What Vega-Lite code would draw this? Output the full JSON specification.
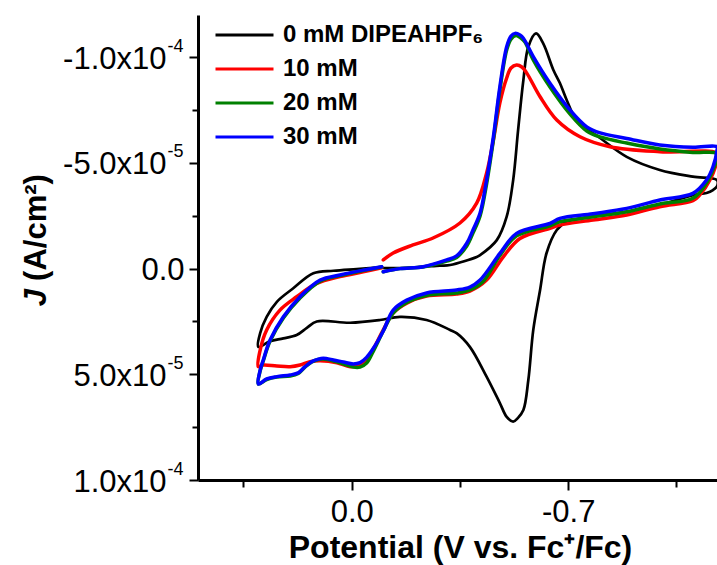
{
 "$schema": "https://vega.github.io/schema/vega-lite/v6.json",
 "width": 519, "height": 465,
 "autosize": {"type": "none"},
 "padding": {"left": 198, "top": 15, "right": 0, "bottom": 85},
 "background": "white",
 "config": {"view": {"stroke": null}, "font": "Liberation Sans"},
 "data": {"values": [
  {"s":"0 mM DIPEAHPF₆","i":0,"E":-0.102,"J":-0.03e-5},
  {"s":"0 mM DIPEAHPF₆","i":1,"E":-0.156,"J":-0.03e-5},
  {"s":"0 mM DIPEAHPF₆","i":2,"E":-0.285,"J":-0.14e-5},
  {"s":"0 mM DIPEAHPF₆","i":3,"E":-0.318,"J":-0.17e-5},
  {"s":"0 mM DIPEAHPF₆","i":4,"E":-0.404,"J":-0.55e-5},
  {"s":"0 mM DIPEAHPF₆","i":5,"E":-0.415,"J":-0.64e-5},
  {"s":"0 mM DIPEAHPF₆","i":6,"E":-0.469,"J":-1.35e-5},
  {"s":"0 mM DIPEAHPF₆","i":7,"E":-0.501,"J":-2.46e-5},
  {"s":"0 mM DIPEAHPF₆","i":8,"E":-0.522,"J":-4.19e-5},
  {"s":"0 mM DIPEAHPF₆","i":9,"E":-0.538,"J":-6.56e-5},
  {"s":"0 mM DIPEAHPF₆","i":10,"E":-0.555,"J":-8.92e-5},
  {"s":"0 mM DIPEAHPF₆","i":11,"E":-0.571,"J":-10.50e-5},
  {"s":"0 mM DIPEAHPF₆","i":12,"E":-0.596,"J":-11.13e-5},
  {"s":"0 mM DIPEAHPF₆","i":13,"E":-0.619,"J":-10.66e-5},
  {"s":"0 mM DIPEAHPF₆","i":14,"E":-0.652,"J":-9.40e-5},
  {"s":"0 mM DIPEAHPF₆","i":15,"E":-0.673,"J":-8.78e-5},
  {"s":"0 mM DIPEAHPF₆","i":16,"E":-0.695,"J":-7.98e-5},
  {"s":"0 mM DIPEAHPF₆","i":17,"E":-0.727,"J":-7.03e-5},
  {"s":"0 mM DIPEAHPF₆","i":18,"E":-0.803,"J":-6.18e-5},
  {"s":"0 mM DIPEAHPF₆","i":19,"E":-0.889,"J":-5.29e-5},
  {"s":"0 mM DIPEAHPF₆","i":20,"E":-0.996,"J":-4.67e-5},
  {"s":"0 mM DIPEAHPF₆","i":21,"E":-1.103,"J":-4.35e-5},
  {"s":"0 mM DIPEAHPF₆","i":22,"E":-1.181,"J":-4.19e-5},
  {"s":"0 mM DIPEAHPF₆","i":23,"E":-1.181,"J":-3.90e-5},
  {"s":"0 mM DIPEAHPF₆","i":24,"E":-1.168,"J":-3.72e-5},
  {"s":"0 mM DIPEAHPF₆","i":25,"E":-1.147,"J":-3.58e-5},
  {"s":"0 mM DIPEAHPF₆","i":26,"E":-1.103,"J":-3.48e-5},
  {"s":"0 mM DIPEAHPF₆","i":27,"E":-0.996,"J":-3.01e-5},
  {"s":"0 mM DIPEAHPF₆","i":28,"E":-0.889,"J":-2.69e-5},
  {"s":"0 mM DIPEAHPF₆","i":29,"E":-0.780,"J":-2.46e-5},
  {"s":"0 mM DIPEAHPF₆","i":30,"E":-0.695,"J":-2.22e-5},
  {"s":"0 mM DIPEAHPF₆","i":31,"E":-0.663,"J":-1.83e-5},
  {"s":"0 mM DIPEAHPF₆","i":32,"E":-0.630,"J":-0.74e-5},
  {"s":"0 mM DIPEAHPF₆","i":33,"E":-0.609,"J":1.01e-5},
  {"s":"0 mM DIPEAHPF₆","i":34,"E":-0.587,"J":2.90e-5},
  {"s":"0 mM DIPEAHPF₆","i":35,"E":-0.571,"J":5.27e-5},
  {"s":"0 mM DIPEAHPF₆","i":36,"E":-0.555,"J":6.69e-5},
  {"s":"0 mM DIPEAHPF₆","i":37,"E":-0.537,"J":7.07e-5},
  {"s":"0 mM DIPEAHPF₆","i":38,"E":-0.522,"J":7.24e-5},
  {"s":"0 mM DIPEAHPF₆","i":39,"E":-0.501,"J":7.01e-5},
  {"s":"0 mM DIPEAHPF₆","i":40,"E":-0.479,"J":6.36e-5},
  {"s":"0 mM DIPEAHPF₆","i":41,"E":-0.436,"J":5.11e-5},
  {"s":"0 mM DIPEAHPF₆","i":42,"E":-0.382,"J":3.70e-5},
  {"s":"0 mM DIPEAHPF₆","i":43,"E":-0.339,"J":3.05e-5},
  {"s":"0 mM DIPEAHPF₆","i":44,"E":-0.318,"J":2.90e-5},
  {"s":"0 mM DIPEAHPF₆","i":45,"E":-0.242,"J":2.43e-5},
  {"s":"0 mM DIPEAHPF₆","i":46,"E":-0.156,"J":2.28e-5},
  {"s":"0 mM DIPEAHPF₆","i":47,"E":-0.091,"J":2.43e-5},
  {"s":"0 mM DIPEAHPF₆","i":48,"E":0.005,"J":2.56e-5},
  {"s":"0 mM DIPEAHPF₆","i":49,"E":0.113,"J":2.50e-5},
  {"s":"0 mM DIPEAHPF₆","i":50,"E":0.145,"J":2.80e-5},
  {"s":"0 mM DIPEAHPF₆","i":51,"E":0.178,"J":3.14e-5},
  {"s":"0 mM DIPEAHPF₆","i":52,"E":0.221,"J":3.30e-5},
  {"s":"0 mM DIPEAHPF₆","i":53,"E":0.264,"J":3.43e-5},
  {"s":"0 mM DIPEAHPF₆","i":54,"E":0.302,"J":3.70e-5},
  {"s":"0 mM DIPEAHPF₆","i":55,"E":0.296,"J":3.05e-5},
  {"s":"0 mM DIPEAHPF₆","i":56,"E":0.275,"J":2.28e-5},
  {"s":"0 mM DIPEAHPF₆","i":57,"E":0.242,"J":1.57e-5},
  {"s":"0 mM DIPEAHPF₆","i":58,"E":0.189,"J":0.93e-5},
  {"s":"0 mM DIPEAHPF₆","i":59,"E":0.124,"J":0.22e-5},
  {"s":"0 mM DIPEAHPF₆","i":60,"E":0.059,"J":0.10e-5},
  {"s":"0 mM DIPEAHPF₆","i":61,"E":-0.016,"J":0.02e-5},
  {"s":"0 mM DIPEAHPF₆","i":62,"E":-0.091,"J":-0.06e-5},

  {"s":"10 mM","i":0,"E":-0.102,"J":-0.41e-5},
  {"s":"10 mM","i":1,"E":-0.134,"J":-0.74e-5},
  {"s":"10 mM","i":2,"E":-0.198,"J":-1.12e-5},
  {"s":"10 mM","i":3,"E":-0.263,"J":-1.45e-5},
  {"s":"10 mM","i":4,"E":-0.350,"J":-2.16e-5},
  {"s":"10 mM","i":5,"E":-0.404,"J":-3.10e-5},
  {"s":"10 mM","i":6,"E":-0.436,"J":-4.52e-5},
  {"s":"10 mM","i":7,"E":-0.458,"J":-6.08e-5},
  {"s":"10 mM","i":8,"E":-0.479,"J":-7.84e-5},
  {"s":"10 mM","i":9,"E":-0.501,"J":-9.02e-5},
  {"s":"10 mM","i":10,"E":-0.515,"J":-9.49e-5},
  {"s":"10 mM","i":11,"E":-0.533,"J":-9.63e-5},
  {"s":"10 mM","i":12,"E":-0.550,"J":-9.54e-5},
  {"s":"10 mM","i":13,"E":-0.566,"J":-9.25e-5},
  {"s":"10 mM","i":14,"E":-0.609,"J":-8.13e-5},
  {"s":"10 mM","i":15,"E":-0.663,"J":-7.03e-5},
  {"s":"10 mM","i":16,"E":-0.738,"J":-6.24e-5},
  {"s":"10 mM","i":17,"E":-0.835,"J":-5.77e-5},
  {"s":"10 mM","i":18,"E":-0.996,"J":-5.53e-5},
  {"s":"10 mM","i":19,"E":-1.181,"J":-5.45e-5},
  {"s":"10 mM","i":20,"E":-1.181,"J":-5.14e-5},
  {"s":"10 mM","i":21,"E":-1.158,"J":-4.19e-5},
  {"s":"10 mM","i":22,"E":-1.126,"J":-3.50e-5},
  {"s":"10 mM","i":23,"E":-1.103,"J":-3.21e-5},
  {"s":"10 mM","i":24,"E":-0.996,"J":-2.93e-5},
  {"s":"10 mM","i":25,"E":-0.889,"J":-2.54e-5},
  {"s":"10 mM","i":26,"E":-0.780,"J":-2.30e-5},
  {"s":"10 mM","i":27,"E":-0.673,"J":-2.06e-5},
  {"s":"10 mM","i":28,"E":-0.641,"J":-1.91e-5},
  {"s":"10 mM","i":29,"E":-0.544,"J":-1.43e-5},
  {"s":"10 mM","i":30,"E":-0.490,"J":-0.56e-5},
  {"s":"10 mM","i":31,"E":-0.436,"J":0.54e-5},
  {"s":"10 mM","i":32,"E":-0.382,"J":1.06e-5},
  {"s":"10 mM","i":33,"E":-0.339,"J":1.20e-5},
  {"s":"10 mM","i":34,"E":-0.242,"J":1.30e-5},
  {"s":"10 mM","i":35,"E":-0.178,"J":1.63e-5},
  {"s":"10 mM","i":36,"E":-0.134,"J":2.10e-5},
  {"s":"10 mM","i":37,"E":-0.102,"J":2.90e-5},
  {"s":"10 mM","i":38,"E":-0.070,"J":3.80e-5},
  {"s":"10 mM","i":39,"E":-0.048,"J":4.32e-5},
  {"s":"10 mM","i":40,"E":-0.027,"J":4.56e-5},
  {"s":"10 mM","i":41,"E":0.005,"J":4.64e-5},
  {"s":"10 mM","i":42,"E":0.048,"J":4.45e-5},
  {"s":"10 mM","i":43,"E":0.102,"J":4.36e-5},
  {"s":"10 mM","i":44,"E":0.135,"J":4.40e-5},
  {"s":"10 mM","i":45,"E":0.167,"J":4.56e-5},
  {"s":"10 mM","i":46,"E":0.199,"J":4.64e-5},
  {"s":"10 mM","i":47,"E":0.242,"J":4.61e-5},
  {"s":"10 mM","i":48,"E":0.286,"J":4.56e-5},
  {"s":"10 mM","i":49,"E":0.302,"J":4.64e-5},
  {"s":"10 mM","i":50,"E":0.296,"J":3.85e-5},
  {"s":"10 mM","i":51,"E":0.275,"J":2.90e-5},
  {"s":"10 mM","i":52,"E":0.232,"J":1.96e-5},
  {"s":"10 mM","i":53,"E":0.178,"J":1.33e-5},
  {"s":"10 mM","i":54,"E":0.113,"J":0.70e-5},
  {"s":"10 mM","i":55,"E":0.038,"J":0.38e-5},
  {"s":"10 mM","i":56,"E":-0.037,"J":0.15e-5},
  {"s":"10 mM","i":57,"E":-0.097,"J":-0.04e-5},

  {"s":"20 mM","i":0,"E":-0.102,"J":0.15e-5},
  {"s":"20 mM","i":1,"E":-0.156,"J":0.00},
  {"s":"20 mM","i":2,"E":-0.231,"J":-0.08e-5},
  {"s":"20 mM","i":3,"E":-0.307,"J":-0.36e-5},
  {"s":"20 mM","i":4,"E":-0.339,"J":-0.53e-5},
  {"s":"20 mM","i":5,"E":-0.372,"J":-1.07e-5},
  {"s":"20 mM","i":6,"E":-0.392,"J":-1.68e-5},
  {"s":"20 mM","i":7,"E":-0.415,"J":-2.49e-5},
  {"s":"20 mM","i":8,"E":-0.436,"J":-4.00e-5},
  {"s":"20 mM","i":9,"E":-0.458,"J":-6.08e-5},
  {"s":"20 mM","i":10,"E":-0.479,"J":-8.45e-5},
  {"s":"20 mM","i":11,"E":-0.501,"J":-10.34e-5},
  {"s":"20 mM","i":12,"E":-0.515,"J":-10.86e-5},
  {"s":"20 mM","i":13,"E":-0.531,"J":-11.03e-5},
  {"s":"20 mM","i":14,"E":-0.547,"J":-10.91e-5},
  {"s":"20 mM","i":15,"E":-0.560,"J":-10.72e-5},
  {"s":"20 mM","i":16,"E":-0.587,"J":-9.87e-5},
  {"s":"20 mM","i":17,"E":-0.641,"J":-8.59e-5},
  {"s":"20 mM","i":18,"E":-0.706,"J":-7.31e-5},
  {"s":"20 mM","i":19,"E":-0.760,"J":-6.51e-5},
  {"s":"20 mM","i":20,"E":-0.803,"J":-6.23e-5},
  {"s":"20 mM","i":21,"E":-0.889,"J":-5.94e-5},
  {"s":"20 mM","i":22,"E":-0.996,"J":-5.66e-5},
  {"s":"20 mM","i":23,"E":-1.103,"J":-5.50e-5},
  {"s":"20 mM","i":24,"E":-1.181,"J":-5.45e-5},
  {"s":"20 mM","i":25,"E":-1.181,"J":-5.20e-5},
  {"s":"20 mM","i":26,"E":-1.168,"J":-4.67e-5},
  {"s":"20 mM","i":27,"E":-1.147,"J":-4.05e-5},
  {"s":"20 mM","i":28,"E":-1.103,"J":-3.33e-5},
  {"s":"20 mM","i":29,"E":-0.996,"J":-3.06e-5},
  {"s":"20 mM","i":30,"E":-0.889,"J":-2.69e-5},
  {"s":"20 mM","i":31,"E":-0.780,"J":-2.45e-5},
  {"s":"20 mM","i":32,"E":-0.673,"J":-2.22e-5},
  {"s":"20 mM","i":33,"E":-0.641,"J":-2.03e-5},
  {"s":"20 mM","i":34,"E":-0.533,"J":-1.55e-5},
  {"s":"20 mM","i":35,"E":-0.479,"J":-0.62e-5},
  {"s":"20 mM","i":36,"E":-0.424,"J":0.62e-5},
  {"s":"20 mM","i":37,"E":-0.382,"J":1.01e-5},
  {"s":"20 mM","i":38,"E":-0.339,"J":1.15e-5},
  {"s":"20 mM","i":39,"E":-0.242,"J":1.27e-5},
  {"s":"20 mM","i":40,"E":-0.178,"J":1.60e-5},
  {"s":"20 mM","i":41,"E":-0.134,"J":2.10e-5},
  {"s":"20 mM","i":42,"E":-0.102,"J":2.95e-5},
  {"s":"20 mM","i":43,"E":-0.070,"J":3.90e-5},
  {"s":"20 mM","i":44,"E":-0.048,"J":4.47e-5},
  {"s":"20 mM","i":45,"E":-0.027,"J":4.66e-5},
  {"s":"20 mM","i":46,"E":-0.005,"J":4.66e-5},
  {"s":"20 mM","i":47,"E":0.027,"J":4.51e-5},
  {"s":"20 mM","i":48,"E":0.059,"J":4.37e-5},
  {"s":"20 mM","i":49,"E":0.092,"J":4.28e-5},
  {"s":"20 mM","i":50,"E":0.108,"J":4.30e-5},
  {"s":"20 mM","i":51,"E":0.129,"J":4.42e-5},
  {"s":"20 mM","i":52,"E":0.151,"J":4.66e-5},
  {"s":"20 mM","i":53,"E":0.173,"J":4.96e-5},
  {"s":"20 mM","i":54,"E":0.199,"J":5.08e-5},
  {"s":"20 mM","i":55,"E":0.242,"J":5.13e-5},
  {"s":"20 mM","i":56,"E":0.275,"J":5.25e-5},
  {"s":"20 mM","i":57,"E":0.302,"J":5.46e-5},
  {"s":"20 mM","i":58,"E":0.296,"J":4.84e-5},
  {"s":"20 mM","i":59,"E":0.286,"J":4.37e-5},
  {"s":"20 mM","i":60,"E":0.264,"J":3.43e-5},
  {"s":"20 mM","i":61,"E":0.221,"J":2.34e-5},
  {"s":"20 mM","i":62,"E":0.167,"J":1.39e-5},
  {"s":"20 mM","i":63,"E":0.102,"J":0.59e-5},
  {"s":"20 mM","i":64,"E":0.038,"J":0.33e-5},
  {"s":"20 mM","i":65,"E":-0.037,"J":0.09e-5},
  {"s":"20 mM","i":66,"E":-0.097,"J":-0.08e-5},

  {"s":"30 mM","i":0,"E":-0.102,"J":0.15e-5},
  {"s":"30 mM","i":1,"E":-0.156,"J":0.00},
  {"s":"30 mM","i":2,"E":-0.231,"J":-0.09e-5},
  {"s":"30 mM","i":3,"E":-0.307,"J":-0.41e-5},
  {"s":"30 mM","i":4,"E":-0.339,"J":-0.60e-5},
  {"s":"30 mM","i":5,"E":-0.372,"J":-1.20e-5},
  {"s":"30 mM","i":6,"E":-0.392,"J":-1.83e-5},
  {"s":"30 mM","i":7,"E":-0.415,"J":-2.63e-5},
  {"s":"30 mM","i":8,"E":-0.436,"J":-4.19e-5},
  {"s":"30 mM","i":9,"E":-0.458,"J":-6.24e-5},
  {"s":"30 mM","i":10,"E":-0.479,"J":-8.61e-5},
  {"s":"30 mM","i":11,"E":-0.501,"J":-10.50e-5},
  {"s":"30 mM","i":12,"E":-0.515,"J":-11.00e-5},
  {"s":"30 mM","i":13,"E":-0.528,"J":-11.13e-5},
  {"s":"30 mM","i":14,"E":-0.544,"J":-11.05e-5},
  {"s":"30 mM","i":15,"E":-0.555,"J":-10.90e-5},
  {"s":"30 mM","i":16,"E":-0.587,"J":-10.03e-5},
  {"s":"30 mM","i":17,"E":-0.641,"J":-8.77e-5},
  {"s":"30 mM","i":18,"E":-0.706,"J":-7.50e-5},
  {"s":"30 mM","i":19,"E":-0.760,"J":-6.71e-5},
  {"s":"30 mM","i":20,"E":-0.803,"J":-6.42e-5},
  {"s":"30 mM","i":21,"E":-0.889,"J":-6.16e-5},
  {"s":"30 mM","i":22,"E":-0.996,"J":-5.85e-5},
  {"s":"30 mM","i":23,"E":-1.103,"J":-5.74e-5},
  {"s":"30 mM","i":24,"E":-1.181,"J":-5.77e-5},
  {"s":"30 mM","i":25,"E":-1.181,"J":-5.60e-5},
  {"s":"30 mM","i":26,"E":-1.168,"J":-4.82e-5},
  {"s":"30 mM","i":27,"E":-1.147,"J":-4.19e-5},
  {"s":"30 mM","i":28,"E":-1.103,"J":-3.56e-5},
  {"s":"30 mM","i":29,"E":-0.996,"J":-3.25e-5},
  {"s":"30 mM","i":30,"E":-0.889,"J":-2.85e-5},
  {"s":"30 mM","i":31,"E":-0.780,"J":-2.60e-5},
  {"s":"30 mM","i":32,"E":-0.673,"J":-2.38e-5},
  {"s":"30 mM","i":33,"E":-0.641,"J":-2.14e-5},
  {"s":"30 mM","i":34,"E":-0.533,"J":-1.67e-5},
  {"s":"30 mM","i":35,"E":-0.479,"J":-0.72e-5},
  {"s":"30 mM","i":36,"E":-0.415,"J":0.54e-5},
  {"s":"30 mM","i":37,"E":-0.382,"J":0.87e-5},
  {"s":"30 mM","i":38,"E":-0.339,"J":1.01e-5},
  {"s":"30 mM","i":39,"E":-0.242,"J":1.15e-5},
  {"s":"30 mM","i":40,"E":-0.178,"J":1.49e-5},
  {"s":"30 mM","i":41,"E":-0.134,"J":1.96e-5},
  {"s":"30 mM","i":42,"E":-0.102,"J":2.95e-5},
  {"s":"30 mM","i":43,"E":-0.070,"J":3.77e-5},
  {"s":"30 mM","i":44,"E":-0.048,"J":4.20e-5},
  {"s":"30 mM","i":45,"E":-0.027,"J":4.45e-5},
  {"s":"30 mM","i":46,"E":-0.005,"J":4.51e-5},
  {"s":"30 mM","i":47,"E":0.027,"J":4.42e-5},
  {"s":"30 mM","i":48,"E":0.059,"J":4.32e-5},
  {"s":"30 mM","i":49,"E":0.092,"J":4.24e-5},
  {"s":"30 mM","i":50,"E":0.108,"J":4.28e-5},
  {"s":"30 mM","i":51,"E":0.129,"J":4.40e-5},
  {"s":"30 mM","i":52,"E":0.151,"J":4.64e-5},
  {"s":"30 mM","i":53,"E":0.173,"J":4.93e-5},
  {"s":"30 mM","i":54,"E":0.199,"J":5.03e-5},
  {"s":"30 mM","i":55,"E":0.242,"J":5.11e-5},
  {"s":"30 mM","i":56,"E":0.275,"J":5.22e-5},
  {"s":"30 mM","i":57,"E":0.302,"J":5.46e-5},
  {"s":"30 mM","i":58,"E":0.296,"J":4.80e-5},
  {"s":"30 mM","i":59,"E":0.286,"J":4.32e-5},
  {"s":"30 mM","i":60,"E":0.264,"J":3.38e-5},
  {"s":"30 mM","i":61,"E":0.221,"J":2.28e-5},
  {"s":"30 mM","i":62,"E":0.167,"J":1.33e-5},
  {"s":"30 mM","i":63,"E":0.102,"J":0.54e-5},
  {"s":"30 mM","i":64,"E":0.038,"J":0.30e-5},
  {"s":"30 mM","i":65,"E":-0.037,"J":0.07e-5},
  {"s":"30 mM","i":66,"E":-0.097,"J":-0.09e-5}
 ]},
 "layer": [
  {
   "mark": {"type": "line", "interpolate": "catmull-rom", "clip": true, "strokeJoin": "round", "strokeCap": "round"},
   "encoding": {
    "x": {"field": "E", "type": "quantitative",
     "scale": {"domain": [-1.181, 0.497], "reverse": true, "nice": false, "zero": false},
     "axis": {
      "values": [0.35, 0, -0.35, -0.7, -1.05],
      "labelExpr": "abs(datum.value) < 1e-9 ? '0.0' : (abs(datum.value + 0.7) < 1e-9 ? '-0.7' : '')",
      "labelFont": "Liberation Sans", "labelFontSize": 31, "labelColor": "black",
      "labelBaseline": "alphabetic", "labelPadding": 31, "labelFlush": false, "labelOverlap": false,
      "tickSize": {"condition": {"test": "abs(datum.value) < 1e-9 || abs(datum.value + 0.7) < 1e-9", "value": 10}, "value": 7},
      "tickWidth": 2, "tickColor": "black",
      "domainWidth": 3, "domainColor": "black", "grid": false,
      "title": "Potential (V vs. Fc⁺/Fc)", "titleFont": "Liberation Sans", "titleFontSize": 32, "titleFontWeight": "bold", "titleColor": "black",
      "titleX": 262, "titleY": 77, "titleBaseline": "alphabetic", "titleAlign": "center"
     }
    },
    "y": {"field": "J", "type": "quantitative",
     "scale": {"domain": [-1.2e-4, 1.0e-4], "reverse": true, "nice": false, "zero": false},
     "axis": {
      "orient": "left",
      "values": [-1e-4, -7.5e-5, -5e-5, -2.5e-5, 0, 2.5e-5, 5e-5, 7.5e-5, 1e-4],
      "labelExpr": "abs(datum.value + 1e-4) < 1e-9 ? '-1.0x10' : abs(datum.value + 5e-5) < 1e-9 ? '-5.0x10' : abs(datum.value) < 1e-9 ? '0.0' : abs(datum.value - 5e-5) < 1e-9 ? '5.0x10' : abs(datum.value - 1e-4) < 1e-9 ? '1.0x10' : ''",
      "labelFont": "Liberation Sans", "labelFontSize": 31, "labelColor": "black",
      "labelAlign": "right", "labelBaseline": "middle", "labelOverlap": false,
      "labelPadding": {"condition": {"test": "abs(datum.value) < 1e-9", "value": 5}, "value": 23},
      "labelOffset": 2,
      "tickSize": {"condition": {"test": "abs(datum.value * 2e4 - round(datum.value * 2e4)) < 1e-6", "value": 9}, "value": 6},
      "tickWidth": 2, "tickColor": "black",
      "domainWidth": 3, "domainColor": "black", "grid": false,
      "title": "(A/cm²)", "titleFont": "Liberation Sans", "titleFontSize": 31, "titleFontWeight": "bold", "titleColor": "black",
      "titleAngle": -90, "titleX": -153, "titleY": 212, "titleAlign": "center", "titleBaseline": "alphabetic"
     }
    },
    "color": {"field": "s", "type": "nominal",
     "scale": {"domain": ["0 mM DIPEAHPF₆", "10 mM", "20 mM", "30 mM"], "range": ["#000000", "#ff0000", "#008000", "#0000ff"]},
     "legend": {
      "orient": "none", "legendX": 16, "legendY": 6, "title": null,
      "symbolType": "stroke", "symbolSize": 3364, "symbolStrokeWidth": 3,
      "labelFont": "Liberation Sans", "labelFontSize": 24, "labelFontWeight": "bold", "labelColor": "black",
      "labelOffset": 8, "clipHeight": 28, "rowPadding": 6, "labelLimit": 400
     }
    },
    "order": {"field": "i", "type": "quantitative"},
    "strokeWidth": {"condition": {"test": "datum.s === '0 mM DIPEAHPF₆'", "value": 2.7}, "value": 3.5}
   }
  },
  {
   "mark": {"type": "point", "opacity": 0, "clip": true},
   "encoding": {
    "x": {"field": "E", "type": "quantitative", "axis": null},
    "y": {"field": "J", "type": "quantitative",
     "axis": {
      "orient": "left",
      "values": [-1e-4, -5e-5, 5e-5, 1e-4],
      "labelExpr": "(datum.value < -7e-5 || datum.value > 7e-5) ? '-4' : '-5'",
      "labelFont": "Liberation Sans", "labelFontSize": 18, "labelColor": "black",
      "labelAlign": "right", "labelBaseline": "middle", "labelOverlap": false,
      "labelPadding": 6, "labelOffset": -11,
      "tickSize": 9, "tickOpacity": 0, "domain": false, "grid": false,
      "title": "J", "titleFont": "Liberation Sans", "titleFontSize": 31, "titleFontWeight": "bold", "titleFontStyle": "italic", "titleColor": "black",
      "titleAngle": -90, "titleX": -153, "titleY": 282, "titleAlign": "center", "titleBaseline": "alphabetic"
     }
    }
   }
  }
 ],
 "resolve": {"axis": {"x": "independent", "y": "independent"}}
}
